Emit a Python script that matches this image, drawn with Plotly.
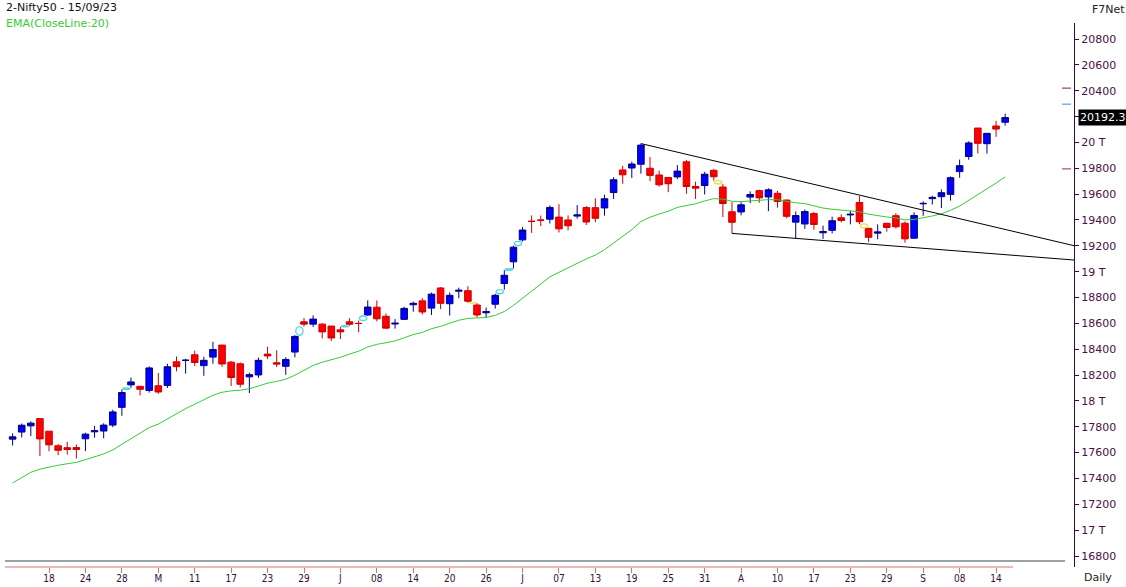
import plotly.graph_objects as go
import pandas as pd

# ---------------- data ----------------
title_text = "2-Nifty50 - 15/09/23"
ema_label = "EMA(CloseLine:20)"

# trading days shown, per month of 2023
apr_days = [11, 12, 13, 17, 18, 19, 20, 21, 24, 25, 26, 27, 28]
may_days = [2, 3, 4, 5, 8, 9, 10, 11, 12, 15, 16, 17, 18, 19, 22, 23, 24, 25, 26, 29, 30, 31]
jun_days = [1, 2, 5, 6, 7, 8, 9, 12, 13, 14, 15, 16, 19, 20, 21, 22, 23, 26, 27, 28, 30]
jul_days = [3, 4, 5, 6, 7, 10, 11, 12, 13, 14, 17, 18, 19, 20, 21, 24, 25, 26, 27, 28, 31]
aug_days = [1, 2, 3, 4, 7, 8, 9, 10, 11, 14, 16, 17, 18, 21, 22, 23, 24, 25, 28, 29, 30, 31]
sep_days = [1, 4, 5, 6, 7, 8, 11, 12, 13, 14, 15]

open_ = [17704, 17759, 17807, 17863, 17766, 17653, 17638, 17639, 17707, 17761, 17767, 17813, 17950,
         18124, 18113, 18081, 18117, 18120, 18303, 18313, 18357, 18273, 18339, 18432, 18300, 18287, 18186,
         18201, 18362, 18295, 18268, 18378, 18612, 18594, 18594,
         18579, 18550, 18612, 18600, 18665, 18725, 18655, 18595, 18631, 18744, 18774, 18718, 18874, 18752,
         18849, 18853, 18742, 18682, 18748, 18908, 19076,
         19246, 19390, 19399, 19406, 19422, 19400, 19430, 19496, 19495, 19493, 19612, 19787, 19802, 19831,
         19800, 19748, 19729, 19733, 19850, 19659, 19666,
         19784, 19655, 19463, 19462, 19577, 19627, 19578, 19606, 19554, 19383, 19369, 19450, 19301, 19320,
         19417, 19439, 19535, 19335, 19298, 19374, 19433, 19375,
         19259, 19525, 19565, 19580, 19598, 19774, 19891, 20111, 19990, 20127, 20156]
high = [17749, 17825, 17842, 17864, 17766, 17666, 17684, 17663, 17754, 17807, 17827, 17932, 18089,
        18181, 18116, 18267, 18216, 18287, 18344, 18326, 18389, 18342, 18458, 18432, 18309, 18297, 18218,
        18335, 18419, 18392, 18338, 18508, 18642, 18662, 18603,
        18580, 18573, 18640, 18622, 18778, 18777, 18676, 18633, 18728, 18769, 18794, 18838, 18881, 18839,
        18876, 18887, 18757, 18722, 18829, 19011, 19201,
        19345, 19435, 19434, 19512, 19523, 19435, 19515, 19507, 19567, 19595, 19731, 19819, 19851, 19991,
        19887, 19782, 19729, 19825, 19863, 19696, 19772,
        19795, 19678, 19538, 19538, 19621, 19634, 19645, 19624, 19557, 19465, 19482, 19463, 19356, 19425,
        19443, 19472, 19584, 19339, 19366, 19378, 19452, 19388,
        19459, 19545, 19588, 19636, 19737, 19867, 20009, 20111, 20072, 20167, 20222]
low = [17655, 17717, 17729, 17574, 17610, 17580, 17585, 17553, 17612, 17716, 17711, 17797, 17885,
       18101, 18042, 18064, 18055, 18100, 18229, 18211, 18270, 18194, 18287, 18264, 18115, 18104, 18061,
       18178, 18324, 18262, 18202, 18337, 18575, 18573, 18484,
       18464, 18478, 18582, 18531, 18657, 18615, 18555, 18559, 18627, 18690, 18669, 18665, 18710, 18660,
       18794, 18759, 18647, 18646, 18714, 18861, 19024,
       19234, 19300, 19352, 19373, 19303, 19320, 19410, 19361, 19382, 19433, 19562, 19680, 19725, 19758,
       19700, 19658, 19615, 19716, 19603, 19563, 19597,
       19704, 19423, 19296, 19436, 19530, 19533, 19468, 19495, 19412, 19257, 19331, 19325, 19254, 19296,
       19381, 19366, 19369, 19229, 19250, 19309, 19334, 19224,
       19255, 19432, 19520, 19492, 19550, 19727, 19866, 19914, 19913, 20043, 20130]
close = [17722, 17812, 17828, 17706, 17660, 17618, 17624, 17624, 17743, 17769, 17813, 17915, 18065,
         18147, 18090, 18255, 18069, 18264, 18265, 18315, 18297, 18314, 18398, 18286, 18181, 18129, 18203,
         18314, 18348, 18285, 18321, 18499, 18594, 18633, 18534,
         18487, 18534, 18593, 18599, 18726, 18635, 18563, 18601, 18716, 18755, 18688, 18826, 18755, 18817,
         18856, 18771, 18665, 18691, 18817, 18972, 19189,
         19322, 19389, 19398, 19497, 19331, 19355, 19439, 19384, 19413, 19564, 19711, 19749, 19833, 19979,
         19745, 19672, 19680, 19778, 19659, 19646, 19754,
         19734, 19527, 19382, 19517, 19597, 19571, 19633, 19543, 19428, 19434, 19465, 19365, 19310, 19394,
         19396, 19444, 19386, 19266, 19307, 19342, 19347, 19254,
         19435, 19528, 19575, 19611, 19727, 19820, 19996, 19993, 20070, 20103, 20192.3]

ema_period = 20
ema_start = 17365          # EMA value at the first visible bar

# hand-drawn trend lines: (start date, start price) -> price where it meets the price axis
upper_line = ("2023-07-20", 19991, 19201)
lower_line = ("2023-08-03", 19296, 19090)

# small level markers next to the price axis
marker_levels = [20420, 20296, 19795]
marker_colors = ["#6a1a6a", "#3090d8", "#9a3030"]

y_ticks = [16800, 17000, 17200, 17400, 17600, 17800, 18000, 18200, 18400, 18600, 18800,
           19000, 19200, 19400, 19600, 19800, 20000, 20200, 20400, 20600, 20800]
tick_every = 4

# ---------------- derived ----------------
dates = []
for m, days in [(4, apr_days), (5, may_days), (6, jun_days), (7, jul_days), (8, aug_days), (9, sep_days)]:
    dates += [pd.Timestamp(2023, m, d) for d in days]
n = len(dates)
xi = list(range(n))
date_pos = {d.strftime("%Y-%m-%d"): i for i, d in enumerate(dates)}

alpha = 2.0 / (ema_period + 1)
ema = []
for i, c in enumerate(close):
    ema.append(ema_start if i == 0 else ema[-1] + alpha * (c - ema[-1]))

tick_idx = list(range(tick_every, n, tick_every))
tick_txt = []
prev_m = None
for i in tick_idx:
    d = dates[i]
    tick_txt.append(d.strftime("%d") if (prev_m is None or d.month == prev_m) else d.strftime("%b")[0])
    prev_m = d.month

last_close = close[-1]
y_txt = []
for v in y_ticks:
    if abs(v - last_close) < 60:      # hidden behind the last-price box
        y_txt.append("")
    elif v % 1000 == 0:
        y_txt.append(f"{v // 1000} T")
    else:
        y_txt.append(str(v))

# ---------------- geometry ----------------
W, H = 1126, 587
ML, MR, MT, MB = 5, 52, 23, 20
PW, PH = W - ML - MR, H - MT - MB
x_lo, x_hi = -0.835, 116.56
y_lo, y_hi = 16715.0, 20923.8


def px_x(p):
    return (p - ML) / PW


def px_y(p):
    return (H - MB - p) / PH


AX = "#3a0a3a"
fig = go.Figure()

fig.add_trace(go.Scatter(x=xi, y=ema, mode="lines", line=dict(color="#33cc33", width=1),
                         hoverinfo="skip", showlegend=False))

fig.add_trace(go.Candlestick(
    x=xi, open=open_, high=high, low=low, close=close,
    increasing=dict(line=dict(color="#00008b", width=1), fillcolor="#0000ff"),
    decreasing=dict(line=dict(color="#d00000", width=1), fillcolor="#ff0000"),
    whiskerwidth=0, showlegend=False))

shapes = []
# gap markers
for i in range(1, n):
    if low[i] > high[i - 1]:
        shapes.append(dict(type="circle", xref="x", yref="y", x0=i - 0.9, x1=i - 0.1,
                           y0=high[i - 1], y1=low[i], line=dict(color="#55d4e6", width=1.3)))
    elif high[i] < low[i - 1]:
        shapes.append(dict(type="circle", xref="x", yref="y", x0=i - 0.9, x1=i - 0.1,
                           y0=high[i], y1=low[i - 1], line=dict(color="#e8dc50", width=1.3)))
# trend lines
for (d0, v0, v1) in [upper_line, lower_line]:
    shapes.append(dict(type="line", xref="x", yref="y", x0=date_pos[d0], y0=v0, x1=x_hi, y1=v1,
                       line=dict(color="black", width=1)))
# axis decorations
shapes.append(dict(type="line", xref="paper", yref="paper", x0=0, x1=px_x(1065), y0=px_y(561), y1=px_y(561),
                   line=dict(color="#808080", width=1.5)))
shapes.append(dict(type="line", xref="paper", yref="paper", x0=0, x1=px_x(1013), y0=0, y1=0,
                   line=dict(color="#d87070", width=1.2)))
for lv, col in zip(marker_levels, marker_colors):
    shapes.append(dict(type="line", xref="paper", yref="y", x0=px_x(1062), x1=px_x(1071), y0=lv, y1=lv,
                       line=dict(color=col, width=1)))

annotations = [
    dict(text=title_text, xref="paper", yref="paper", x=px_x(4), y=px_y(8), xanchor="left", yanchor="middle",
         showarrow=False, font=dict(family="DejaVu Sans, Verdana", size=11, color="#111111")),
    dict(text=ema_label, xref="paper", yref="paper", x=px_x(4), y=px_y(23), xanchor="left", yanchor="middle",
         showarrow=False, font=dict(family="DejaVu Sans, Verdana", size=11, color="#33cc33")),
    dict(text="F7Net", xref="paper", yref="paper", x=px_x(1090), y=px_y(9), xanchor="left", yanchor="middle",
         showarrow=False, font=dict(family="DejaVu Sans, Verdana", size=11, color="#222222")),
    dict(text="Daily", xref="paper", yref="paper", x=px_x(1082), y=px_y(577), xanchor="left", yanchor="middle",
         showarrow=False, font=dict(family="DejaVu Sans, Verdana", size=11, color="#222222")),
    dict(text=f"{last_close:.1f}", xref="paper", yref="y", x=px_x(1078), y=last_close, xanchor="left",
         yanchor="middle", showarrow=False, bgcolor="black", borderpad=1,
         font=dict(family="DejaVu Sans, Verdana", size=11, color="white")),
]

fig.update_layout(
    width=W, height=H, margin=dict(l=ML, r=MR, t=MT, b=MB, autoexpand=False),
    paper_bgcolor="white", plot_bgcolor="white",
    boxgap=0, boxgroupgap=0.28,
    shapes=shapes, annotations=annotations, showlegend=False,
    xaxis=dict(range=[x_lo, x_hi], tickvals=tick_idx, ticktext=tick_txt, ticks="outside", ticklen=5,
               tickcolor="#d87070", showline=False, showgrid=False, zeroline=False, automargin=False,
               rangeslider=dict(visible=False), fixedrange=True, ticklabelstandoff=-3,
               tickfont=dict(family="Liberation Sans Narrow, DejaVu Sans Condensed, Arial Narrow", size=10,
                             color=AX)),
    yaxis=dict(range=[y_lo, y_hi], side="right", tickvals=y_ticks, ticktext=y_txt, ticks="outside",
               ticklen=4, tickcolor=AX, showline=True, linecolor=AX, linewidth=1, showgrid=False,
               zeroline=False, fixedrange=True, automargin=False,
               tickfont=dict(family="DejaVu Sans, Verdana", size=11, color="#4a0d4a")),
)

fig.write_html("out.html")
